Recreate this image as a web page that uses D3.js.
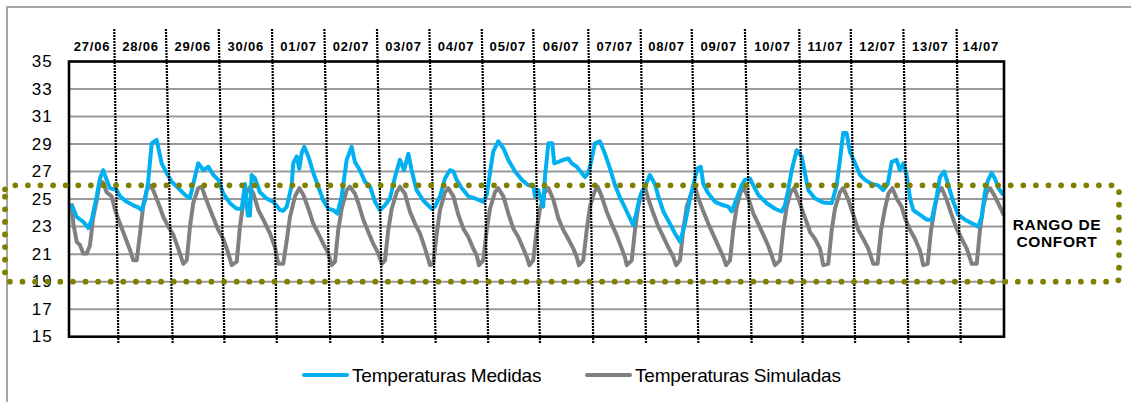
<!DOCTYPE html>
<html>
<head>
<meta charset="utf-8">
<script src="https://cdn.jsdelivr.net/npm/d3@7/dist/d3.min.js"></script>
<style>
  html, body { margin: 0; padding: 0; background: #fff; }
  svg { display: block; font-family: "Liberation Sans", Arial, sans-serif; }
</style>
</head>
<body>
<svg id="chart" width="1131" height="402"></svg>
<script>
// ---------- DATA ----------
// hours since 27/06 00:00, temperature (°C)
const measured = [[1.2,24.6],[3.6,23.7],[6.6,23.35],[8.9,22.9],[10.5,23.5],[12.8,25.2],[14.3,26.5],[15.8,27.1],[17.4,26.4],[18.9,25.8],[22.0,25.65],[23.6,25.2],[26.7,24.8],[29.7,24.55],[32.0,24.4],[33.6,24.2],[35.1,24.9],[36.6,26.3],[38.2,29.05],[40.5,29.3],[42.8,27.6],[45.1,26.9],[47.5,26.25],[50.5,25.8],[53.6,25.3],[55.9,25.1],[57.4,26.1],[59.7,27.6],[62.1,27.1],[64.4,27.35],[66.7,26.75],[69.0,26.4],[71.3,25.4],[74.4,24.7],[77.5,24.3],[79.8,24.3],[81.3,26.1],[82.6,23.8],[83.6,23.8],[84.4,26.75],[85.9,26.5],[88.2,25.5],[91.3,25.05],[94.4,24.8],[97.5,24.2],[99.0,24.15],[100.6,24.45],[102.9,26.0],[103.6,27.6],[105.2,28.1],[106.4,27.2],[107.5,28.35],[108.7,28.8],[110.6,28.1],[112.9,26.9],[115.2,25.9],[117.5,24.9],[119.8,24.3],[122.1,24.2],[124.0,23.95],[126.0,25.2],[128.3,27.85],[130.6,28.8],[132.1,27.7],[134.4,27.1],[136.8,26.25],[139.1,25.9],[141.4,24.8],[143.7,24.2],[146.0,24.55],[148.3,25.05],[150.6,26.6],[152.9,27.85],[154.8,27.1],[156.8,28.3],[158.3,27.1],[160.6,25.65],[163.7,24.9],[167.6,24.3],[169.1,24.45],[171.4,25.2],[173.7,26.5],[176.0,27.1],[177.6,27.0],[179.1,26.4],[181.4,25.8],[184.5,25.2],[187.6,25.05],[189.9,24.9],[191.4,24.8],[193.0,25.3],[194.5,26.9],[196.0,28.45],[198.3,29.2],[200.7,28.7],[203.0,27.85],[206.1,27.0],[209.2,26.4],[212.2,26.0],[214.5,26.0],[215.3,25.2],[216.8,25.65],[219.1,24.45],[219.9,26.6],[221.5,29.05],[223.3,29.05],[224.2,27.6],[226.1,27.7],[228.4,27.85],[230.7,27.95],[232.3,27.6],[234.6,27.35],[236.9,26.9],[238.4,26.6],[239.9,26.9],[241.2,27.7],[243.0,29.05],[245.3,29.2],[247.6,28.3],[250.0,27.2],[252.3,26.0],[254.6,25.1],[257.7,24.1],[260.7,23.1],[262.3,24.1],[263.8,25.2],[266.1,25.9],[268.4,26.75],[270.7,26.1],[272.3,25.2],[274.6,24.1],[277.7,23.2],[280.0,22.5],[282.3,21.9],[284.6,23.2],[286.9,25.05],[289.2,26.5],[290.3,27.2],[291.9,27.35],[293.1,26.1],[295.4,25.4],[298.5,24.8],[302.3,24.55],[304.6,24.45],[306.2,24.1],[308.5,25.05],[310.8,26.0],[312.3,26.4],[314.6,26.5],[316.2,26.0],[318.5,25.3],[322.4,24.7],[326.2,24.3],[329.3,24.1],[330.8,24.55],[332.3,25.65],[333.9,27.1],[336.2,28.55],[338.5,28.1],[340.0,26.9],[341.6,25.65],[344.7,25.05],[348.5,24.75],[352.4,24.7],[354.7,26.0],[356.2,27.85],[357.7,29.8],[359.3,29.8],[360.8,28.45],[363.2,27.6],[365.5,26.75],[367.8,26.4],[370.9,26.1],[373.9,26.0],[376.2,25.65],[378.3,26.1],[380.1,27.7],[382.4,27.85],[383.9,27.1],[385.5,27.6],[387.0,26.75],[388.6,25.05],[390.1,24.2],[393.2,23.85],[396.3,23.5],[398.6,23.5],[400.9,25.2],[402.4,26.6],[404.4,27.0],[406.3,26.0],[408.6,24.8],[410.9,23.85],[414.0,23.5],[417.1,23.25],[420.1,23.0],[421.7,23.7],[423.2,25.5],[424.7,26.4],[426.3,26.9],[427.8,26.5],[429.4,25.8],[431.7,25.3]];

const simulated = [[1.2,24.7],[2.0,23.2],[3.6,21.9],[5.1,21.65],[6.6,21.05],[8.2,21.05],[9.7,21.65],[11.2,23.7],[12.8,24.9],[14.3,26.3],[15.8,26.2],[17.4,25.5],[19.7,25.2],[21.3,24.2],[23.6,23.2],[25.9,22.25],[28.2,21.3],[29.7,20.55],[31.3,20.55],[32.8,22.5],[34.3,24.55],[35.9,25.65],[37.4,26.0],[38.9,25.65],[41.3,24.7],[43.6,23.7],[45.9,23.0],[48.2,22.4],[50.5,21.4],[52.8,20.3],[54.4,20.55],[55.9,23.0],[57.4,24.7],[59.7,25.8],[61.3,25.9],[62.8,25.2],[65.9,23.95],[69.0,22.75],[71.3,22.1],[73.6,21.05],[75.2,20.2],[77.5,20.45],[79.0,23.0],[80.5,24.7],[82.1,25.5],[83.6,25.85],[85.2,25.4],[87.5,24.2],[89.8,23.5],[92.9,22.5],[95.2,21.5],[96.7,20.3],[99.0,20.3],[100.6,22.0],[102.1,23.7],[104.4,25.2],[106.4,25.8],[108.3,25.3],[110.6,24.3],[112.9,23.2],[115.2,22.5],[117.5,21.75],[119.8,21.05],[121.4,20.2],[122.9,20.45],[124.4,22.75],[126.0,24.3],[128.3,25.65],[129.8,25.9],[132.1,25.4],[133.7,24.7],[136.0,23.5],[138.3,22.6],[140.6,21.75],[142.9,21.05],[144.5,20.3],[146.0,20.55],[147.5,22.75],[149.1,24.3],[151.4,25.5],[152.9,25.9],[155.2,25.4],[157.5,24.1],[159.9,23.2],[162.2,22.5],[164.5,21.4],[166.8,20.2],[168.3,20.3],[169.9,22.5],[171.4,24.2],[173.7,25.5],[175.2,25.8],[177.6,25.2],[179.9,23.85],[182.2,22.85],[184.5,22.25],[186.8,21.4],[188.4,20.9],[189.4,20.2],[191.4,20.55],[193.0,22.75],[194.5,24.3],[196.8,25.5],[198.3,25.8],[200.7,25.2],[203.0,23.95],[205.3,22.85],[207.6,22.25],[209.9,21.4],[211.5,20.8],[212.7,20.2],[214.5,20.55],[216.1,22.75],[217.6,24.3],[219.9,25.5],[221.5,25.8],[223.8,24.95],[226.1,23.6],[228.4,22.75],[230.7,22.1],[233.0,21.4],[234.6,20.8],[235.6,20.2],[237.6,20.55],[239.2,22.75],[240.7,24.45],[242.7,25.5],[244.3,25.9],[246.1,25.2],[248.4,24.1],[250.7,23.2],[253.0,22.4],[255.4,21.4],[256.9,20.75],[257.7,20.2],[260.0,20.55],[261.5,22.75],[263.0,24.45],[264.6,25.5],[266.1,25.9],[267.6,25.05],[270.0,23.95],[272.3,23.0],[274.6,22.25],[276.9,21.5],[279.2,20.8],[280.5,20.2],[282.3,20.55],[283.8,22.75],[285.4,24.45],[287.7,25.5],[289.2,25.9],[290.8,25.05],[293.1,24.1],[295.4,23.2],[297.7,22.4],[300.0,21.6],[302.3,20.8],[303.6,20.2],[305.4,20.55],[306.9,22.75],[308.5,24.45],[310.3,25.5],[311.9,25.8],[313.9,25.05],[316.2,23.95],[318.5,23.2],[320.8,22.4],[323.1,21.6],[325.1,20.7],[326.2,20.2],[328.5,20.55],[330.0,22.75],[331.6,24.45],[333.4,25.5],[335.0,25.8],[337.0,25.05],[339.3,23.95],[341.6,23.0],[342.4,22.6],[344.7,22.1],[347.0,21.4],[348.5,20.2],[350.8,20.3],[352.4,22.75],[353.9,24.3],[356.2,25.5],[357.7,25.8],[360.1,24.95],[362.4,23.85],[364.7,22.75],[367.0,22.1],[369.3,21.4],[371.6,20.3],[373.6,20.3],[375.2,22.75],[377.0,24.3],[378.6,25.4],[380.4,25.8],[382.4,25.05],[384.7,24.45],[386.3,23.6],[388.6,22.75],[390.9,22.1],[393.2,21.25],[394.7,20.2],[396.7,20.3],[398.3,22.75],[400.1,24.45],[401.6,25.5],[403.2,25.8],[405.5,24.95],[407.8,23.85],[410.1,22.85],[412.5,22.1],[414.8,21.4],[417.1,20.3],[419.4,20.3],[420.9,22.75],[422.4,24.45],[424.0,25.5],[425.5,25.8],[427.8,25.2],[430.1,24.45],[432.0,23.8]];

const dayLabels = ["27/06","28/06","29/06","30/06","01/07","02/07","03/07","04/07","05/07","06/07","07/07","08/07","09/07","10/07","11/07","12/07","13/07","14/07"];
// day divider lines (hours) as drawn at their top and bottom ends
const dividerTop    = [20.9,44.8,69.2,93.8,118.0,142.3,166.5,190.7,214.5,239.9,264.1,287.7,312.3,337.4,361.2,385.5,410.1];
const dividerBottom = [22.8,47.9,71.8,96.0,120.7,144.9,169.4,193.7,217.6,242.2,266.6,290.8,315.4,339.0,363.2,387.8,412.0];
const yTicks = [15,17,19,21,23,25,27,29,31,33,35];
const comfortRange = [19, 26];
const seriesNames = ["Temperaturas Medidas", "Temperaturas Simuladas"];
const hourDomain = [0, 432];
const tempDomain = [15, 35];

// ---------- LAYOUT ----------
const svg = d3.select("#chart");
const L = 69, R = 1004, T = 61.5, B = 336.7;
const x = d3.scaleLinear().domain(hourDomain).range([L, R]);
const y = d3.scaleLinear().domain(tempDomain).range([B, T]);
const COL_BLUE = "#00b0f0", COL_GRAY = "#808080", OLIVE = "#808000";

// outer frame (only top/left visible)
svg.append("path").attr("d", "M7,402 L7,7 L1131,7")
  .attr("fill", "none").attr("stroke", "#a6a6a6").attr("stroke-width", 2);

// gridlines
svg.append("g").selectAll("line").data(yTicks.filter(v => v > tempDomain[0] && v < tempDomain[1]))
  .join("line")
  .attr("x1", L).attr("x2", R)
  .attr("y1", d => y(d)).attr("y2", d => y(d))
  .attr("stroke", "#999").attr("stroke-width", 2);

// y axis labels
svg.append("g").selectAll("text").data(yTicks).join("text")
  .attr("x", 53).attr("y", d => y(d))
  .attr("text-anchor", "end").attr("dominant-baseline", "central")
  .attr("font-size", 17).attr("letter-spacing", 1.2).attr("fill", "#000")
  .text(d => d);

// series
const line = d3.line().x(d => x(d[0])).y(d => y(d[1]));
svg.append("path").datum(simulated).attr("d", line)
  .attr("fill", "none").attr("stroke", COL_GRAY).attr("stroke-width", 4)
  .attr("stroke-linejoin", "round");
svg.append("path").datum(measured).attr("d", line)
  .attr("fill", "none").attr("stroke", COL_BLUE).attr("stroke-width", 4)
  .attr("stroke-linejoin", "round");

// plot frame
svg.append("rect").attr("x", L).attr("y", T).attr("width", R - L).attr("height", B - T)
  .attr("fill", "none").attr("stroke", "#000").attr("stroke-width", 2.6);

// day dividers
const divTopY = 29, divBotY = 343;
svg.append("g").selectAll("line").data(d3.zip(dividerTop, dividerBottom)).join("line")
  .attr("x1", d => x(d[0])).attr("y1", divTopY)
  .attr("x2", d => x(d[1])).attr("y2", divBotY)
  .attr("stroke", "#000").attr("stroke-width", 2.2).attr("stroke-dasharray", "2 1");

// day labels centred between dividers
const bounds = [hourDomain[0], ...dividerTop, hourDomain[1]];
svg.append("g").selectAll("text").data(dayLabels).join("text")
  .attr("x", (d, i) => (x(bounds[i]) + x(bounds[i + 1])) / 2 + 0.4)
  .attr("y", 46)
  .attr("text-anchor", "middle").attr("dominant-baseline", "central")
  .attr("font-size", 13).attr("font-weight", "bold").attr("letter-spacing", 0.8)
  .text(d => d);

// comfort range box
const bx0 = 5, bx1 = 1119;
const by0 = y(comfortRange[1]), by1 = y(comfortRange[0]);
svg.append("path")
  .attr("d", `M${bx0},${by0 + 4} Q${bx0},${by0} ${bx0 + 4},${by0} L${bx1 - 4},${by0} Q${bx1},${by0} ${bx1},${by0 + 4} L${bx1},${by1 - 4} Q${bx1},${by1} ${bx1 - 4},${by1} L${bx0 + 4},${by1} Q${bx0},${by1} ${bx0},${by1 - 4} Z`)
  .attr("fill", "none").attr("stroke", OLIVE).attr("stroke-width", 5.8)
  .attr("stroke-linecap", "round").attr("stroke-dasharray", "0 12.6");

svg.append("text").attr("x", 1057).attr("y", 224)
  .attr("text-anchor", "middle").attr("dominant-baseline", "central")
  .attr("font-size", 15.5).attr("font-weight", "bold").attr("letter-spacing", 0.6)
  .text("RANGO DE");
svg.append("text").attr("x", 1057).attr("y", 241)
  .attr("text-anchor", "middle").attr("dominant-baseline", "central")
  .attr("font-size", 15.5).attr("font-weight", "bold").attr("letter-spacing", 0.6)
  .text("CONFORT");

// legend
const legend = [
  { name: seriesNames[0], color: COL_BLUE, x0: 304 },
  { name: seriesNames[1], color: COL_GRAY, x0: 587 }
];
const lg = svg.append("g").selectAll("g").data(legend).join("g");
lg.append("line").attr("x1", d => d.x0).attr("x2", d => d.x0 + 43)
  .attr("y1", 375).attr("y2", 375)
  .attr("stroke", d => d.color).attr("stroke-width", 4).attr("stroke-linecap", "round");
lg.append("text").attr("x", d => d.x0 + 48).attr("y", 375)
  .attr("dominant-baseline", "central").attr("font-size", 19).attr("letter-spacing", -0.2)
  .text(d => d.name);
</script>
</body>
</html>
